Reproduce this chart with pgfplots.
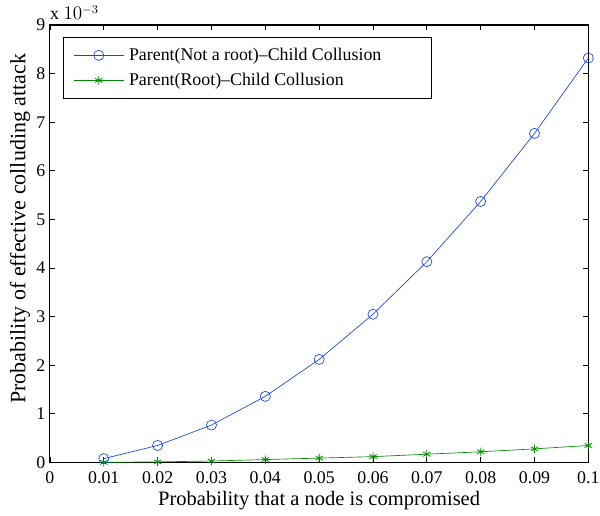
\documentclass[border=0pt]{standalone}
\usepackage{fontspec}
\setmainfont{Liberation Serif}
\usepackage{pgfplots}
\pgfplotsset{compat=1.18}
\definecolor{mblue}{rgb}{0.1,0.25,1}
\definecolor{mgreen}{rgb}{0,0.55,0}
\begin{document}
\begin{tikzpicture}
\begin{axis}[
  at={(0,0)}, anchor=south west,
  scale only axis,
  width=404.25pt, height=328.5pt,
  xmin=0, xmax=0.1, ymin=0, ymax=0.009,
  xtick={0,0.01,0.02,0.03,0.04,0.05,0.06,0.07,0.08,0.09,0.1},
  xticklabels={0,0.01,0.02,0.03,0.04,0.05,0.06,0.07,0.08,0.09,0.1},
  scaled x ticks=false,
  ytick={0,0.001,0.002,0.003,0.004,0.005,0.006,0.007,0.008,0.009},
  yticklabels={0,1,2,3,4,5,6,7,8,9},
  scaled y ticks=false,
  tick align=inside,
  major tick length=3.75pt,
  axis line style={line width=0.8pt},
  every tick/.style={black, line width=0.6pt},
  /pgf/number format/assume math mode=true,
  tick label style={font=\fontsize{13.4}{15}\selectfont},
  xticklabel style={yshift=-3pt},
  xlabel={Probability that a node is compromised},
  ylabel={Probability of effective colluding attack},
  xlabel style={font=\fontsize{15.4}{17}\selectfont, at={(axis description cs:0.5,-0.0868)}, anchor=center},
  ylabel style={font=\fontsize{16.5}{18}\selectfont, at={(axis description cs:-0.0557,0.534)}, anchor=center, rotate=0},
  legend style={at={(axis description cs:0.0241,0.9726)}, anchor=north west, draw=black, line width=0.8pt,
    font=\fontsize{13.4}{15}\selectfont, inner xsep=0pt, inner ysep=7pt, row sep=6pt, column sep=0pt,
    nodes={inner xsep=0pt, inner ysep=1pt}},
  legend image code/.code={\path (0pt,0pt) (48.75pt,0pt);
    \draw[mark repeat=2,mark phase=2] plot coordinates {(7.5pt,0pt) (26.25pt,0pt) (45pt,0pt)};},
  legend cell align=left,
  clip=false,
]
\addplot[mblue, line width=0.5pt, mark=o, mark size=3.8pt, mark options={line width=0.5pt}] coordinates {
(0.01,0.00008) (0.02,0.00035) (0.03,0.00077) (0.04,0.00136) (0.05,0.00212)
(0.06,0.00305) (0.07,0.00413) (0.08,0.00537) (0.09,0.00677) (0.1,0.00832)
};
\addlegendentry{\makebox[227pt][l]{Parent(Not a root)--Child Collusion}}
\addplot[mgreen, line width=0.5pt, mark=asterisk, mark size=3.2pt, mark options={line width=0.6pt}] coordinates {
(0.01,0.000003) (0.02,0.000012) (0.03,0.00003) (0.04,0.00006) (0.05,0.00009)
(0.06,0.00012) (0.07,0.00017) (0.08,0.00022) (0.09,0.00028) (0.1,0.00035)
};
\addlegendentry{\makebox[227pt][l]{Parent(Root)--Child Collusion}}
\node[anchor=base west, font=\fontsize{13.4}{15}\selectfont, inner sep=0pt] at (rel axis cs:0,1) [yshift=3.75pt] {x $10^{-3}$};
\end{axis}
\pgfresetboundingbox
\useasboundingbox (-37.5pt,-39.75pt) rectangle (413pt,347.25pt);
\end{tikzpicture}
\end{document}
